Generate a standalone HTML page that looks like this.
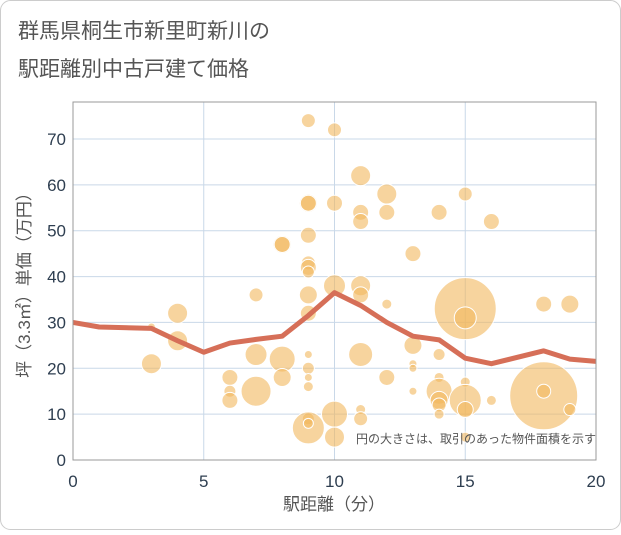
<!DOCTYPE html>
<html><head><meta charset="utf-8"><style>
body{margin:0;background:#fff;}
svg text{font-family:"Liberation Sans","Noto Sans CJK JP",sans-serif;}
</style></head><body>
<svg width="621" height="530" xmlns="http://www.w3.org/2000/svg">
<rect x="0.5" y="0.5" width="620" height="529" rx="10" fill="#fff" stroke="#ccc"/>
<text x="18" y="38" font-size="21" fill="#555">群馬県桐生市新里町新川の</text>
<text x="18" y="76" font-size="21" fill="#555">駅距離別中古戸建て価格</text>
<g id="grid"></g>
<g id="bubbles"></g>
<g id="line"></g>
<rect x="73" y="102" width="523" height="358" fill="none" stroke="#999" stroke-width="1"/>
<g id="ticks"></g>
<text x="596" y="443" font-size="12" fill="#555" text-anchor="end">円の大きさは、取引のあった物件面積を示す</text>
<text x="334" y="510" font-size="17" fill="#555" text-anchor="middle">駅距離（分）</text>
<text transform="translate(30,281) rotate(-90)" font-size="17" fill="#555" text-anchor="middle">坪（3.3㎡）単価（万円）</text>
</svg>
<script>
const xTicks=[0,5,10,15,20];
const yTicks=[0,10,20,30,40,50,60,70];
const bx=[3,3,4,4,6,6,6,7,7,7,8,8,8,8,9,9,9,9,9,9,9,9,9,9,9,9,9,9,9,9,10,10,10,10,10,11,11,11,11,11,11,11,11,12,12,12,12,13,13,13,13,13,14,14,14,14,14,14,14,15,15,15,15,15,15,15,16,16,18,18,18,19,19];
const by=[29,21,32,26,18,15,13,36,23,15,47,47,22,18,74,56,56,49,43,42,41,36,32,23,20,18,16,9,7,8,72,56,38,10,5,62,54,52,38,36,23,11,9,58,54,34,18,45,25,21,20,15,54,23,18,15,13,12,10,58,33,31,17,13,11,5,52,13,34,14,15,34,11];
const bs=[4,10,10,10,8,6,8,7,11,15,9,8,13,9,7,9,8,8,7,8,6,9,8,4,6,4,5,6,16,5,7,8,11,13,10,10,8,8,10,8,12,5,7,10,8,5,8,8,9,4,4,4,8,6,5,13,9,7,5,7,31,11,5,16,8,5,8,5,8,34,7,9,6];
const lx=[0,1,3,4,5,6,7,8,9,10,11,12,13,14,15,16,18,19,20];
const ly=[30,29,28.7,26,23.5,25.5,26.3,27,31.5,36.5,33.7,30,27,26.2,22.2,21,23.8,22,21.5];
const NS="http://www.w3.org/2000/svg";
const X=v=>73+v*523/20, Y=v=>460-v*321/70;
function mk(t,a,p){const e=document.createElementNS(NS,t);for(const k in a)e.setAttribute(k,a[k]);p.appendChild(e);return e;}
const g=document.getElementById('grid'),tk=document.getElementById('ticks');
xTicks.forEach(v=>{const l=mk('line',{x1:X(v),x2:X(v),y1:102,y2:460,stroke:'#c9d8e8','stroke-width':1},g);


const t=mk('text',{x:X(v),y:487,'font-size':17,fill:'#2e3e50','text-anchor':'middle'},tk);t.textContent=v;

});
yTicks.forEach(v=>{const l=mk('line',{x1:73,x2:596,y1:Y(v),y2:Y(v),stroke:'#c9d8e8','stroke-width':1},g);


const t=mk('text',{x:66,y:Y(v)+6,'font-size':17,fill:'#2e3e50','text-anchor':'end'},tk);t.textContent=v;

});
const bg=document.getElementById('bubbles');
bx.forEach((v,i)=>{const c=mk('circle',{cx:X(v),cy:Y(by[i]),r:bs[i],fill:'#f2b75e','fill-opacity':0.6,stroke:'#fff','stroke-width':1},bg);

});
const p=mk('polyline',{points:lx.map((v,i)=>X(v)+','+Y(ly[i])).join(' '),fill:'none',stroke:'#d66f58','stroke-width':5,'stroke-linejoin':'round'},document.getElementById('line'));


</script>
</body></html>
